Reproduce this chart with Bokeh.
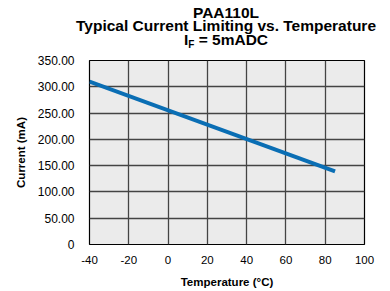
from bokeh.plotting import figure
from bokeh.models import FixedTicker, Range1d, CustomJSTickFormatter, Div
from bokeh.layouts import column
from bokeh.embed import file_html
from bokeh.resources import INLINE

# Data
temperature = [-40, 85]
current = [310, 139]
x_ticks = [-40, -20, 0, 20, 40, 60, 80, 100]
y_ticks = [0, 50, 100, 150, 200, 250, 300, 350]

title_1 = "PAA110L"
title_2 = "Typical Current Limiting vs. Temperature"
title_3_main = "I"
title_3_sub = "F"
title_3_rest = " = 5mADC"
x_label = "Temperature (\u00b0C)"
y_label = "Current (mA)"

FONT = "Liberation Sans"

title_html = (
    f"<div style=\"box-sizing:border-box;font-family:'{FONT}',Arial,sans-serif;font-weight:bold;"
    "font-size:15.5px;line-height:13.5px;color:black;text-align:center;padding-left:62px;"
    "padding-top:5.5px;width:390px;white-space:nowrap;\">"
    f"{title_1}<br>{title_2}<br>{title_3_main}"
    f"<span style=\"font-size:10px;position:relative;top:3px;\">{title_3_sub}</span>"
    f"{title_3_rest}</div>"
)
header = Div(text=title_html, width=390, height=54, margin=(0, 0, 0, 0))

p = figure(width=390, height=237, output_backend="svg", toolbar_location=None,
           x_range=Range1d(-40, 100), y_range=Range1d(0, 350),
           min_border_left=89, min_border_right=26, min_border_top=6, min_border_bottom=47,
           margin=(0, 0, 0, 0))

p.background_fill_color = "#ebebeb"
p.border_fill_color = "white"
p.outline_line_color = "black"
p.outline_line_width = 1.2

p.line(temperature, current, line_color="#0a6eb4", line_width=4)

for ax in (p.xaxis[0], p.yaxis[0]):
    ax.axis_line_color = None
    ax.major_tick_line_color = None
    ax.minor_tick_line_color = None
    ax.major_label_text_font = FONT
    ax.major_label_text_color = "black"
    ax.axis_label_text_font = FONT
    ax.axis_label_text_font_style = "bold"
    ax.axis_label_text_font_size = "11.5px"
    ax.axis_label_text_color = "black"

p.xaxis.major_label_text_font_size = "11.5px"
p.yaxis.major_label_text_font_size = "12px"
p.xaxis.ticker = FixedTicker(ticks=x_ticks)
p.yaxis.ticker = FixedTicker(ticks=y_ticks)
p.yaxis.formatter = CustomJSTickFormatter(code="return tick == 0 ? '0' : tick.toFixed(2);")
p.xaxis.formatter = CustomJSTickFormatter(code="return String(tick);")
p.xaxis.major_label_standoff = 5
p.yaxis.major_label_standoff = 9
p.xaxis.axis_label = x_label
p.yaxis.axis_label = y_label
p.xaxis.axis_label_standoff = 9
p.yaxis.axis_label_standoff = 8

p.xgrid.ticker = FixedTicker(ticks=x_ticks)
p.ygrid.ticker = FixedTicker(ticks=y_ticks)
p.grid.grid_line_color = "#444444"
p.grid.grid_line_width = 1.3
p.grid.grid_line_alpha = 1.0

layout = column(header, p, spacing=0)
open("out.html", "w").write(file_html(layout, INLINE))
